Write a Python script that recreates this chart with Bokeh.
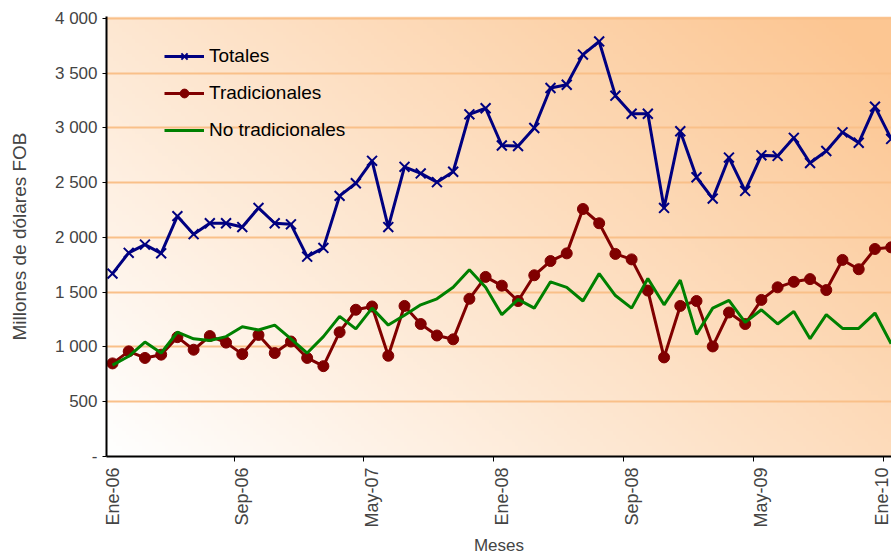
import numpy as np
from bokeh.plotting import figure
from bokeh.models import FixedTicker, Legend, LegendItem, Range1d
from bokeh.embed import file_html
from bokeh.resources import INLINE

# ---------------- data ----------------
meses_abbr = ["Ene", "Feb", "Mar", "Abr", "May", "Jun", "Jul", "Ago", "Sep", "Oct", "Nov", "Dic"]
anios = ["06", "07", "08", "09", "10"]
meses = [f"{m}-{a}" for a in anios for m in meses_abbr][:49]

totales = [1670, 1860, 1935, 1855, 2195, 2030, 2130, 2130, 2095, 2270, 2130, 2120,
           1825, 1905, 2380, 2495, 2700, 2095, 2645, 2585, 2505, 2600, 3125, 3180,
           2840, 2835, 3000, 3365, 3395, 3670, 3790, 3295, 3130, 3130, 2270, 2970,
           2550, 2355, 2730, 2425, 2750, 2745, 2910, 2680, 2790, 2960, 2865, 3195,
           2900]
tradicionales = [850, 960, 900, 930, 1090, 975, 1100, 1040, 935, 1110, 945, 1050,
                 900, 825, 1135, 1340, 1370, 920, 1375, 1210, 1105, 1070, 1440, 1640,
                 1560, 1420, 1655, 1785, 1855, 2260, 2130, 1850, 1800, 1515, 905, 1375,
                 1420, 1005, 1315, 1210, 1430, 1545, 1595, 1620, 1520, 1795, 1710, 1895,
                 1910]
no_tradicionales = [835, 915, 1045, 945, 1135, 1075, 1060, 1095, 1185, 1155, 1200, 1075,
                    945, 1095, 1280, 1165, 1355, 1200, 1290, 1385, 1440, 1545, 1705, 1545,
                    1295, 1435, 1355, 1595, 1545, 1420, 1670, 1470, 1355, 1625, 1385, 1610,
                    1115, 1355, 1425, 1225, 1340, 1210, 1325, 1075, 1295, 1170, 1170, 1310,
                    1030]

y_ticks = [0, 500, 1000, 1500, 2000, 2500, 3000, 3500, 4000]
y_tick_labels = ["-", "500", "1 000", "1 500", "2 000", "2 500", "3 000", "3 500", "4 000"]
x_tick_idx = [0, 8, 16, 24, 32, 40, 48]

FONT = "Liberation Sans"

x = list(range(len(meses)))
x0, x1 = -0.37, 48.02
y0, y1 = 0, 4018

p = figure(width=891, height=557, output_backend="svg", toolbar_location=None,
           x_range=Range1d(x0, x1), y_range=Range1d(y0, y1),
           min_border_left=106, min_border_right=0, min_border_top=16, min_border_bottom=101)
p.outline_line_color = None
p.background_fill_color = "white"
p.border_fill_color = "white"

# gradient background (white bottom-left -> peach top-right)
H, W = 120, 240
u = np.linspace(0, 1, W)[None, :]
v = np.linspace(0, 1, H)[:, None]
t = np.clip(0.62 * u + 0.42 * v, 0, 1)
c0 = np.array([255, 255, 255])
c1 = np.array([252, 198, 146])
img = np.zeros((H, W), dtype=np.uint32)
view = img.view(dtype=np.uint8).reshape((H, W, 4))
for k in range(3):
    view[:, :, k] = (c0[k] + (c1[k] - c0[k]) * t).astype(np.uint8)
view[:, :, 3] = 255
p.image_rgba(image=[img], x=x0, y=y0, dw=x1 - x0, dh=y1 - y0, level="image")

# series
lt = p.line(x, totales, line_color="#000080", line_width=3)
st = p.scatter(x, totales, marker="x", size=14, line_color="#000080", line_width=2)
lr = p.line(x, tradicionales, line_color="#800000", line_width=3)
sr = p.scatter(x, tradicionales, marker="circle", size=11, fill_color="#800000",
               line_color="#800000")
lg = p.line(x, no_tradicionales, line_color="#008000", line_width=3)

legend = Legend(items=[LegendItem(label="Totales", renderers=[lt, st]),
                       LegendItem(label="Tradicionales", renderers=[lr, sr]),
                       LegendItem(label="No tradicionales", renderers=[lg])],
                location=(58, 315), orientation="vertical")
legend.background_fill_alpha = 0
legend.border_line_color = None
legend.padding = 0
legend.margin = 0
legend.spacing = 15
legend.glyph_width = 40
legend.glyph_height = 22
legend.label_height = 22
legend.label_standoff = 5
legend.label_text_font = FONT
legend.label_text_font_size = "19px"
legend.label_text_color = "black"
p.add_layout(legend)

# grid
p.xgrid.grid_line_color = None
p.ygrid.grid_line_color = "#F9C089"
p.ygrid.grid_line_width = 2
p.ygrid.ticker = FixedTicker(ticks=y_ticks)

# y axis
p.yaxis.ticker = FixedTicker(ticks=y_ticks)
p.yaxis.major_label_overrides = {tv: lab for tv, lab in zip(y_ticks, y_tick_labels)}
p.yaxis.axis_line_color = "black"
p.yaxis.axis_line_width = 2
p.yaxis.major_tick_line_width = 1
p.yaxis.major_tick_out = 4
p.yaxis.major_tick_in = 0
p.yaxis.minor_tick_line_color = None
p.yaxis.major_label_text_font = FONT
p.yaxis.major_label_text_font_size = "17px"
p.yaxis.major_label_standoff = 5
p.yaxis.axis_label = "Millones de dólares FOB"
p.yaxis.axis_label_text_font = FONT
p.yaxis.axis_label_text_font_size = "19px"
p.yaxis.axis_label_text_font_style = "normal"
p.yaxis.axis_label_standoff = 22

# x axis
p.xaxis.ticker = FixedTicker(ticks=x_tick_idx, minor_ticks=[i - 0.5 for i in x_tick_idx])
p.xaxis.major_label_overrides = {i: meses[i] for i in x_tick_idx}
p.xaxis.axis_line_color = "black"
p.xaxis.axis_line_width = 2
p.xaxis.major_tick_line_color = None
p.xaxis.major_tick_out = 0
p.xaxis.major_tick_in = 0
p.xaxis.minor_tick_line_color = "black"
p.xaxis.minor_tick_out = 5
p.xaxis.minor_tick_in = 0
p.xaxis.major_label_orientation = np.pi / 2
p.xaxis.major_label_text_font = FONT
p.xaxis.major_label_text_font_size = "18px"
p.xaxis.major_label_standoff = 6
p.xaxis.axis_label = "Meses"
p.xaxis.axis_label_text_font = FONT
p.xaxis.axis_label_text_font_size = "17px"
p.xaxis.axis_label_text_font_style = "normal"
p.xaxis.axis_label_standoff = 5

open("out.html", "w").write(file_html(p, INLINE))
